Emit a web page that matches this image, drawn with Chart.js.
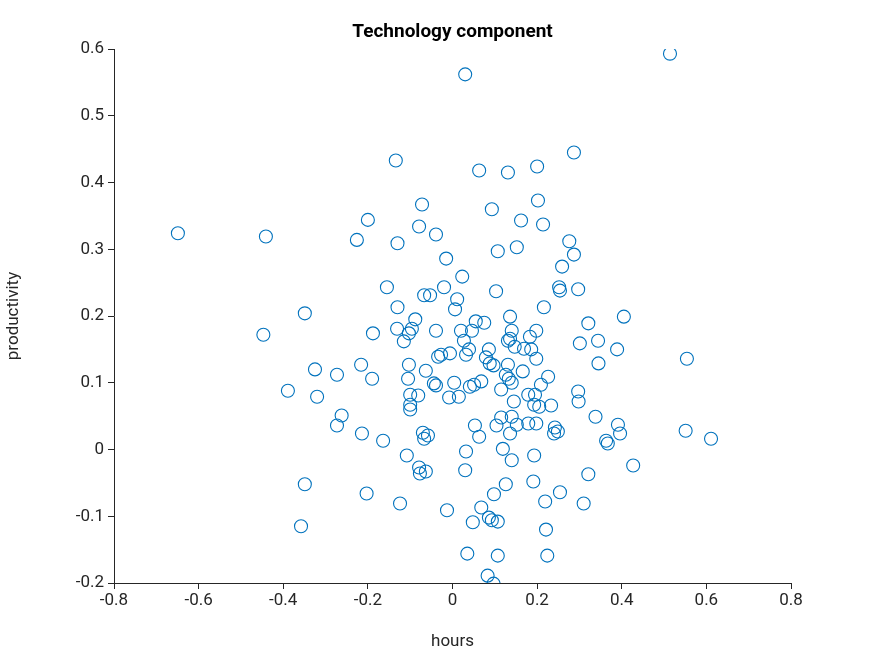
<!DOCTYPE html>
<html><head><meta charset="utf-8">
<script src="https://cdn.jsdelivr.net/npm/chart.js@4"></script>
<style>html,body{margin:0;padding:0;background:#fff}#w{width:875px;height:656px}</style>
</head><body><div id="w"><canvas id="c"></canvas></div>
<script>
const hours = [0.514,0.030,0.287,-0.134,0.063,0.200,0.131,-0.649,-0.441,-0.072,0.202,0.093,-0.200,0.162,-0.079,-0.039,-0.226,0.276,-0.130,0.214,0.287,0.152,0.107,-0.015,0.023,0.259,-0.155,-0.020,0.252,0.254,0.297,0.103,-0.067,-0.053,0.011,-0.349,-0.130,0.006,0.405,0.136,0.216,-0.088,0.055,0.321,-0.131,-0.096,-0.039,0.020,0.046,0.075,0.140,0.198,-0.103,-0.447,-0.188,0.183,0.136,-0.115,0.027,0.344,0.301,0.147,0.086,0.169,0.039,0.389,0.186,0.131,-0.027,-0.034,-0.006,0.032,0.079,0.198,0.554,-0.103,-0.216,0.131,0.345,0.088,-0.325,-0.273,-0.063,0.166,0.097,0.126,0.226,-0.190,-0.105,0.133,0.068,0.140,0.209,-0.044,-0.039,0.004,0.041,0.051,0.297,-0.389,-0.320,-0.100,-0.081,-0.008,0.015,0.179,0.195,0.115,-0.100,-0.100,0.298,0.145,0.193,0.205,0.233,-0.262,0.115,0.140,0.338,-0.273,0.152,0.053,0.104,0.179,0.198,0.242,0.391,0.249,0.396,0.240,0.136,0.551,0.611,0.363,0.367,-0.164,-0.214,-0.058,-0.067,-0.070,0.063,0.032,0.119,0.140,0.193,-0.108,0.427,0.030,-0.079,-0.077,-0.063,0.321,-0.349,-0.203,0.191,0.126,0.098,0.254,0.219,0.310,-0.124,0.068,-0.013,0.086,0.093,0.107,0.048,0.221,-0.358,0.035,0.107,0.224,0.083,0.097];
const productivity = [0.593,0.562,0.445,0.433,0.418,0.424,0.415,0.324,0.319,0.367,0.373,0.360,0.344,0.343,0.334,0.322,0.314,0.312,0.309,0.337,0.292,0.303,0.297,0.286,0.259,0.274,0.243,0.243,0.243,0.238,0.240,0.237,0.231,0.231,0.225,0.204,0.213,0.210,0.199,0.199,0.213,0.195,0.192,0.189,0.181,0.181,0.178,0.178,0.178,0.190,0.178,0.178,0.174,0.172,0.174,0.169,0.166,0.162,0.163,0.163,0.159,0.154,0.150,0.151,0.150,0.150,0.150,0.163,0.142,0.139,0.144,0.142,0.138,0.136,0.136,0.127,0.127,0.127,0.129,0.129,0.120,0.112,0.118,0.117,0.126,0.112,0.109,0.106,0.106,0.106,0.102,0.100,0.097,0.099,0.096,0.100,0.094,0.097,0.087,0.088,0.079,0.082,0.081,0.078,0.079,0.082,0.082,0.090,0.067,0.060,0.072,0.072,0.067,0.064,0.066,0.051,0.048,0.049,0.049,0.036,0.037,0.036,0.036,0.039,0.039,0.033,0.037,0.027,0.024,0.024,0.024,0.028,0.016,0.013,0.009,0.013,0.024,0.021,0.016,0.025,0.019,-0.003,0.001,-0.016,-0.009,-0.009,-0.024,-0.031,-0.027,-0.036,-0.033,-0.037,-0.052,-0.066,-0.048,-0.052,-0.067,-0.064,-0.078,-0.081,-0.081,-0.087,-0.091,-0.102,-0.106,-0.108,-0.109,-0.120,-0.115,-0.156,-0.159,-0.159,-0.189,-0.201];
const xTicks = [-0.8,-0.6,-0.4,-0.2,0,0.2,0.4,0.6,0.8];
const yTicks = [-0.2,-0.1,0,0.1,0.2,0.3,0.4,0.5,0.6];

const pts = hours.map((x,i)=>({x, y: productivity[i]}));
const font = {family:'Roboto, "Noto Sans", sans-serif', size:17};
const titlePlugin = {id:'t', afterDraw(ch){const c=ch.ctx;c.save();c.font='bold 19px Roboto, "Noto Sans", sans-serif';c.fillStyle='#000';c.textAlign='center';c.textBaseline='middle';c.fillText('Technology component',(ch.chartArea.left+ch.chartArea.right)/2,32);c.restore();}};
new Chart(document.getElementById('c'), {
  type:'scatter',
  data:{datasets:[{data:pts, borderColor:'#0072BD', backgroundColor:'rgba(0,0,0,0)', borderWidth:1.1, pointRadius:6.5, pointHoverRadius:6.5}]},
  options:{
    responsive:true, maintainAspectRatio:false, animation:false,
    layout:{padding:{top:49,right:84,left:0,bottom:0}},
    plugins:{legend:{display:false},tooltip:{enabled:false}},
    scales:{
      x:{min:-0.8,max:0.8, afterBuildTicks(s){s.ticks=xTicks.map(v=>({value:v}));}, afterFit(s){s.height=73;},
        grid:{drawOnChartArea:false,tickLength:6,color:'#262626'}, border:{color:'#262626'},
        ticks:{font, color:'#262626', padding:2, maxRotation:0, callback:v=>String(Math.round(v*10)/10)},
        title:{display:true,text:'hours',font,color:'#262626',padding:{top:4}}},
      y:{min:-0.2,max:0.6, afterBuildTicks(s){s.ticks=yTicks.map(v=>({value:v}));}, afterFit(s){s.width=114;},
        grid:{drawOnChartArea:false,tickLength:6,color:'#262626'}, border:{color:'#262626'},
        ticks:{font, color:'#262626', padding:4, callback:v=>String(Math.round(v*10)/10)},
        title:{display:true,text:'productivity',font,color:'#262626',padding:{bottom:4}}}
    }
  },
  plugins:[titlePlugin]
});
</script></body></html>
